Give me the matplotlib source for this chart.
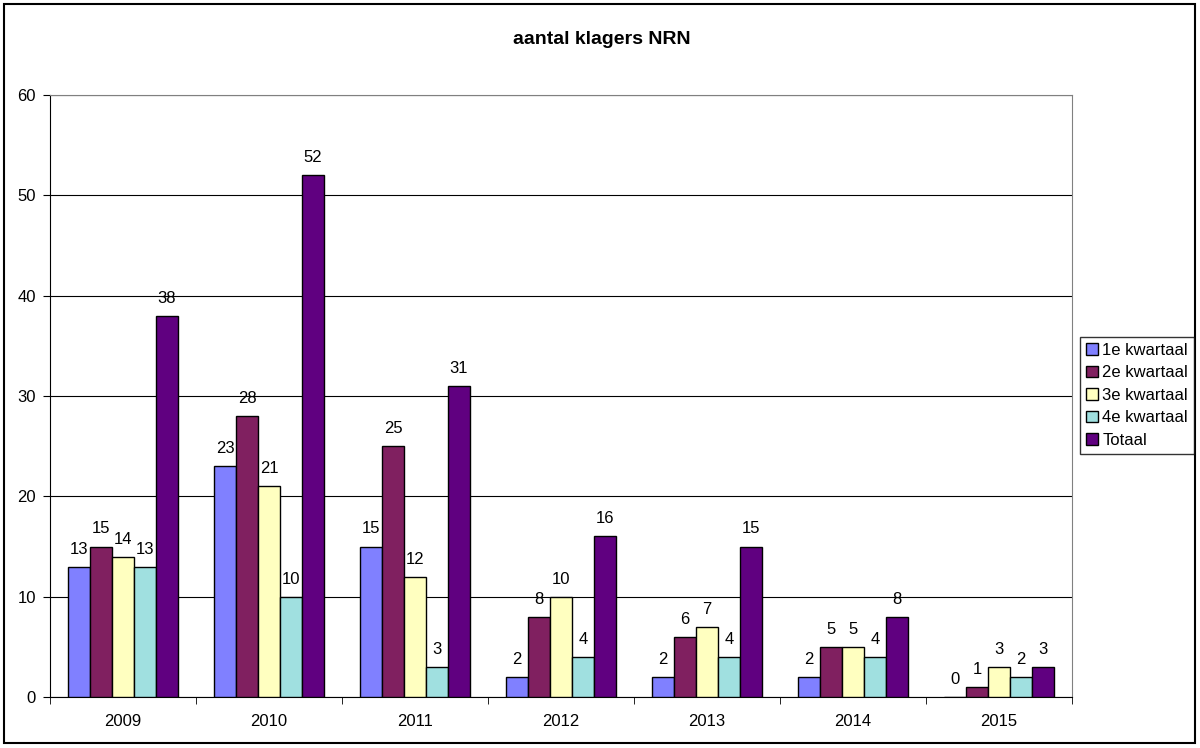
import matplotlib
matplotlib.use('Agg')
import matplotlib.pyplot as plt
import matplotlib.patches as patches
import numpy as np

plt.rcParams['font.family'] = ['Liberation Sans', 'DejaVu Sans']

# data
years = ['2009', '2010', '2011', '2012', '2013', '2014', '2015']
kw1 = [13, 23, 15, 2, 2, 2, 0]
kw2 = [15, 28, 25, 8, 6, 5, 1]
kw3 = [14, 21, 12, 10, 7, 5, 3]
kw4 = [13, 10, 3, 4, 4, 4, 2]
totaal = [38, 52, 31, 16, 15, 8, 3]
series_names = ['1e kwartaal', '2e kwartaal', '3e kwartaal', '4e kwartaal', 'Totaal']
colors = ['#8080FF', '#802060', '#FFFFC0', '#A0E0E0', '#600080']

fig = plt.figure(figsize=(12, 7.48), dpi=100)
ax = fig.add_axes([50/1200, 1-697/748, (1072-50)/1200, (697-95)/748])

# outer chart border
fig.patches.append(patches.Rectangle((4/1200, 5/748), 1191/1200, 739/748,
	transform=fig.transFigure, fill=False, edgecolor='black', lw=1.5))

x = np.arange(len(years))
bw = 0.15
allSeries = [kw1, kw2, kw3, kw4, totaal]
for i, vals in enumerate(allSeries):
	pos = x + (i - 2) * bw
	bars = ax.bar(pos, vals, width=bw, color=colors[i], edgecolor='black',
		linewidth=1, label=series_names[i], zorder=3)
	for b, v in zip(bars, vals):
		ax.text(b.get_x() + b.get_width()/2, v + 1.0, str(v), ha='center',
			va='bottom', fontsize=12)
	pass
pass

ax.set_xlim(-0.5, len(years) - 0.5)
ax.set_ylim(0, 60)
ax.set_yticks(range(0, 61, 10))
ax.yaxis.grid(True, color='black', lw=0.8, zorder=0)
ax.set_xticks(x)
ax.set_xticklabels(years)
ax.set_xticks(np.arange(-0.5, len(years), 1), minor=True)
ax.tick_params(axis='x', which='major', length=0, labelsize=12, pad=12)
ax.tick_params(axis='x', which='minor', length=5, direction='out')
ax.tick_params(axis='y', length=5, direction='out', labelsize=12, pad=5)

for s in ['top', 'right']:
	ax.spines[s].set_color('#808080')
pass
ax.spines['left'].set_color('black')
ax.spines['bottom'].set_color('black')

fig.text(602/1200, 1-40/748, 'aantal klagers NRN', fontsize=14,
	fontweight='bold', ha='center', va='center')

leg = fig.legend(loc='upper left', bbox_to_anchor=(1080/1200, 1-337/748),
	fontsize=12, frameon=True, fancybox=False, edgecolor='black',
	handlelength=0.7, handleheight=0.7, handletextpad=0.3, borderpad=0.35,
	labelspacing=0.45, borderaxespad=0)
leg.get_frame().set_linewidth(1)

fig.savefig('out.png', dpi=100)
